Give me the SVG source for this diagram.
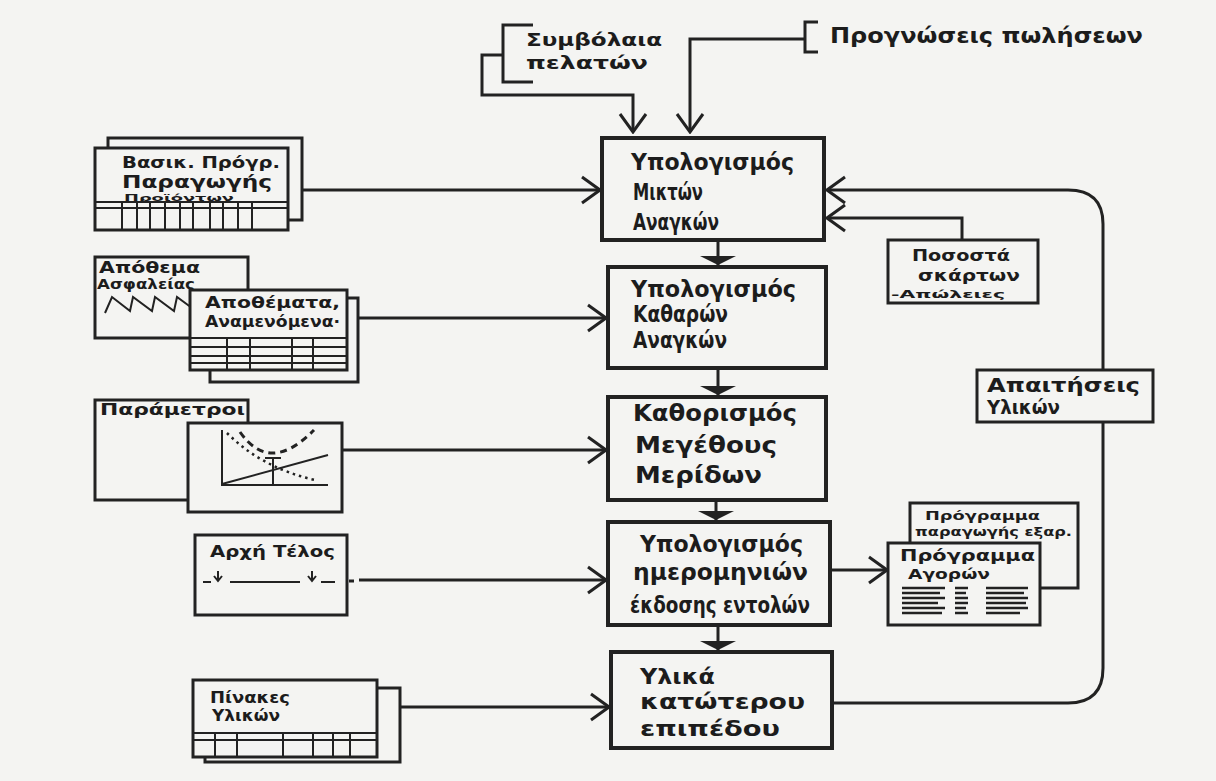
<svg xmlns="http://www.w3.org/2000/svg" width="1216" height="781" viewBox="0 0 1216 781">
<defs>
<style>
.bx{fill:#f4f4f2;stroke:#222;stroke-width:4}
.doc{fill:#f4f4f2;stroke:#222;stroke-width:3}
.t{font-family:"DejaVu Sans","Liberation Sans",sans-serif;font-weight:bold;fill:#1c1c1c}
.big{font-size:23px}
.ln{fill:none;stroke:#222;stroke-width:3}
.th{fill:none;stroke:#222;stroke-width:2}
.dot{fill:none;stroke:#222;stroke-width:2.5;stroke-dasharray:2.5 4}
.dash{fill:none;stroke:#222;stroke-width:3;stroke-dasharray:7 5}
.bar{fill:none;stroke:#222;stroke-width:2.5}
</style>
<marker id="open" viewBox="0 0 22 30" refX="20" refY="15" markerWidth="22" markerHeight="30" markerUnits="userSpaceOnUse" orient="auto">
<path d="M2,2 L20,15 L2,28" fill="none" stroke="#222" stroke-width="3"/>
</marker>
<marker id="flat" viewBox="0 0 10 40" refX="9" refY="20" markerWidth="10" markerHeight="40" markerUnits="userSpaceOnUse" orient="auto">
<path d="M0,2 L9,20 L0,38 Z" fill="#222"/>
</marker>
</defs>
<rect width="1216" height="781" fill="#f4f4f2"/>

<g id="connectors">
<path class="ln" d="M503,55 H482 V95 H633 V132" marker-end="url(#open)"/>
<path class="ln" d="M805,39 H690 V132" marker-end="url(#open)"/>
<path class="ln" d="M302,190 H600" marker-end="url(#open)"/>
<path class="ln" d="M358,318 H606" marker-end="url(#open)"/>
<path class="ln" d="M342,450 H606" marker-end="url(#open)"/>
<path class="ln" d="M349,581 H354"/>
<path class="ln" d="M359,580 H606" marker-end="url(#open)"/>
<path class="ln" d="M400,707 H609" marker-end="url(#open)"/>
<path class="ln" d="M718,240 V265" marker-end="url(#flat)"/>
<path class="ln" d="M718,368 V395" marker-end="url(#flat)"/>
<path class="ln" d="M716,500 V520" marker-end="url(#flat)"/>
<path class="ln" d="M718,625 V650" marker-end="url(#flat)"/>
<path class="ln" d="M830,570 H887" marker-end="url(#open)"/>
<path class="ln" d="M962,240 V218 H827" marker-end="url(#open)"/>
<path class="ln" d="M832,703 H1068 Q1103,703 1103,668 V422"/>
<path class="ln" d="M1103,370 V224 Q1103,190 1068,190 H827" marker-end="url(#open)"/>
</g>

<g id="contracts">
<path class="ln" d="M533,25 H503 V82 H533"/>
<text class="t" x="526" y="46" font-size="18" textLength="136" lengthAdjust="spacingAndGlyphs">Συμβόλαια</text>
<text class="t" x="526" y="69" font-size="18" textLength="122" lengthAdjust="spacingAndGlyphs">πελατών</text>
</g>

<g id="forecasts">
<path class="ln" d="M818,22 H805 V52 H818"/>
<text class="t" x="830" y="43" font-size="21" textLength="313" lengthAdjust="spacingAndGlyphs">Προγνώσεις πωλήσεων</text>
</g>

<g id="box1">
<rect class="bx" x="602" y="138" width="222" height="102"/>
<text class="t big" x="631" y="170" textLength="163" lengthAdjust="spacingAndGlyphs">Υπολογισμός</text>
<text class="t big" x="633" y="200" textLength="70" lengthAdjust="spacingAndGlyphs">Μικτών</text>
<text class="t big" x="633" y="230" textLength="86" lengthAdjust="spacingAndGlyphs">Αναγκών</text>
</g>

<g id="box2">
<rect class="bx" x="608" y="267" width="218" height="101"/>
<text class="t big" x="631" y="297" textLength="165" lengthAdjust="spacingAndGlyphs">Υπολογισμός</text>
<text class="t big" x="633" y="322" textLength="95" lengthAdjust="spacingAndGlyphs">Καθαρών</text>
<text class="t big" x="633" y="348" textLength="94" lengthAdjust="spacingAndGlyphs">Αναγκών</text>
</g>

<g id="box3">
<rect class="bx" x="608" y="397" width="218" height="103"/>
<text class="t big" x="633" y="421" textLength="164" lengthAdjust="spacingAndGlyphs">Καθορισμός</text>
<text class="t big" x="635" y="453" textLength="142" lengthAdjust="spacingAndGlyphs">Μεγέθους</text>
<text class="t big" x="635" y="483" textLength="127" lengthAdjust="spacingAndGlyphs">Μερίδων</text>
</g>

<g id="box4">
<rect class="bx" x="608" y="522" width="222" height="103"/>
<text class="t big" x="640" y="552" textLength="163" lengthAdjust="spacingAndGlyphs">Υπολογισμός</text>
<text class="t big" x="633" y="580" textLength="175" lengthAdjust="spacingAndGlyphs">ημερομηνιών</text>
<text class="t big" x="630" y="613" textLength="180" lengthAdjust="spacingAndGlyphs">έκδοσης εντολών</text>
</g>

<g id="box5">
<rect class="bx" x="611" y="652" width="221" height="96"/>
<text class="t" x="640" y="684" font-size="21" textLength="75" lengthAdjust="spacingAndGlyphs">Υλικά</text>
<text class="t" x="640" y="709" font-size="21" textLength="165" lengthAdjust="spacingAndGlyphs">κατώτερου</text>
<text class="t" x="640" y="736" font-size="21" textLength="140" lengthAdjust="spacingAndGlyphs">επιπέδου</text>
</g>

<g id="mps">
<rect class="doc" x="108" y="138" width="194" height="82"/>
<rect class="doc" x="95" y="148" width="193" height="82"/>
<text class="t" x="122" y="168" font-size="16" textLength="158" lengthAdjust="spacingAndGlyphs">Βασικ. Πρόγρ.</text>
<text class="t" x="122" y="188" font-size="17" textLength="150" lengthAdjust="spacingAndGlyphs">Παραγωγής</text>
<text class="t" x="124" y="201" font-size="8" textLength="110" lengthAdjust="spacingAndGlyphs">Προϊόντων</text>
<path class="th" d="M95,202 H288 M95,208 H288"/>
<path class="th" d="M122,202 V230 M137,202 V230 M150,202 V230 M165,202 V230 M180,202 V230 M193,202 V230 M210,202 V230 M223,202 V230 M238,202 V230 M252,202 V230"/>
</g>

<g id="safety-stock">
<rect class="doc" x="95" y="257" width="153" height="81"/>
<text class="t" x="99" y="273" font-size="16" textLength="101" lengthAdjust="spacingAndGlyphs">Απόθεμα</text>
<text class="t" x="97" y="289" font-size="14" textLength="98" lengthAdjust="spacingAndGlyphs">Ασφαλείας</text>
<path class="th" d="M105,313 L112,297 L130,311 L133,297 L152,311 L155,297 L174,311 L177,297 L192,308"/>
</g>

<g id="expected-stock">
<rect class="doc" x="210" y="298" width="148" height="84"/>
<rect class="doc" x="190" y="290" width="157" height="80"/>
<text class="t" x="205" y="308" font-size="15" textLength="135" lengthAdjust="spacingAndGlyphs">Αποθέματα,</text>
<text class="t" x="205" y="327" font-size="15" textLength="135" lengthAdjust="spacingAndGlyphs">Αναμενόμενα·</text>
<path class="th" d="M190,338 H347 M190,347 H347 M190,356 H347 M190,363 H347"/>
<path class="th" d="M227,338 V370 M250,338 V370 M292,338 V370 M313,338 V370"/>
</g>

<g id="parameters">
<rect class="doc" x="95" y="400" width="153" height="100"/>
<text class="t" x="100" y="415" font-size="15" textLength="145" lengthAdjust="spacingAndGlyphs">Παράμετροι</text>
<rect class="doc" x="188" y="423" width="154" height="89"/>
<path class="th" d="M222,430 V485 H328"/>
<path class="th" d="M222,484 L328,455"/>
<path class="dot" d="M227,433 Q262,468 315,480"/>
<path class="dash" d="M240,432 Q270,475 314,430"/>
<path class="th" d="M273,458 V485 M265,458 H281"/>
</g>

<g id="start-end">
<rect class="doc" x="195" y="535" width="152" height="80"/>
<text class="t" x="210" y="557" font-size="15" textLength="125" lengthAdjust="spacingAndGlyphs">Αρχή  Τέλος</text>
<path class="th" d="M203,582 H211 M230,582 H300 M321,582 H335"/>
<path class="th" d="M218,571 V581 M214,576 L218,581 L222,576 M312,571 V581 M308,576 L312,581 L316,576"/>
</g>

<g id="bom">
<rect class="doc" x="205" y="688" width="195" height="74"/>
<rect class="doc" x="193" y="680" width="184" height="77"/>
<text class="t" x="210" y="703" font-size="16" textLength="80" lengthAdjust="spacingAndGlyphs">Πίνακες</text>
<text class="t" x="212" y="721" font-size="16" textLength="68" lengthAdjust="spacingAndGlyphs">Υλικών</text>
<path class="th" d="M193,733 H377 M193,740 H377"/>
<path class="th" d="M215,733 V757 M237,733 V757 M283,733 V757 M313,733 V757 M333,733 V757 M350,733 V757"/>
</g>

<g id="scrap">
<rect class="doc" x="888" y="240" width="150" height="63"/>
<text class="t" x="912" y="261" font-size="15" textLength="98" lengthAdjust="spacingAndGlyphs">Ποσοστά</text>
<text class="t" x="918" y="281" font-size="15" textLength="102" lengthAdjust="spacingAndGlyphs">σκάρτων</text>
<text class="t" x="891" y="298" font-size="11" textLength="114" lengthAdjust="spacingAndGlyphs">-Απώλειες</text>
</g>

<g id="requirements">
<rect class="doc" x="977" y="370" width="176" height="52"/>
<text class="t" x="987" y="392" font-size="19" textLength="153" lengthAdjust="spacingAndGlyphs">Απαιτήσεις</text>
<text class="t" x="987" y="414" font-size="19" textLength="73" lengthAdjust="spacingAndGlyphs">Υλικών</text>
</g>

<g id="purchase-plan">
<rect class="doc" x="910" y="503" width="168" height="85"/>
<text class="t" x="925" y="520" font-size="12" textLength="115" lengthAdjust="spacingAndGlyphs">Πρόγραμμα</text>
<text class="t" x="915" y="536" font-size="12" textLength="157" lengthAdjust="spacingAndGlyphs">παραγωγής εξαρ.</text>
<rect class="doc" x="888" y="543" width="152" height="82"/>
<text class="t" x="900" y="561" font-size="15" textLength="135" lengthAdjust="spacingAndGlyphs">Πρόγραμμα</text>
<text class="t" x="908" y="579" font-size="14" textLength="82" lengthAdjust="spacingAndGlyphs">Αγορών</text>
<path class="bar" d="M902,588 H945 M902,593 H940 M902,598 H945 M902,603 H938 M902,608 H945 M902,613 H942"/>
<path class="bar" d="M955,588 H968 M955,593 H966 M955,598 H968 M955,603 H968 M955,608 H966 M955,613 H968"/>
<path class="bar" d="M986,588 H1028 M986,593 H1024 M986,598 H1028 M986,603 H1026 M986,608 H1028 M986,613 H1020"/>
</g>
</svg>
